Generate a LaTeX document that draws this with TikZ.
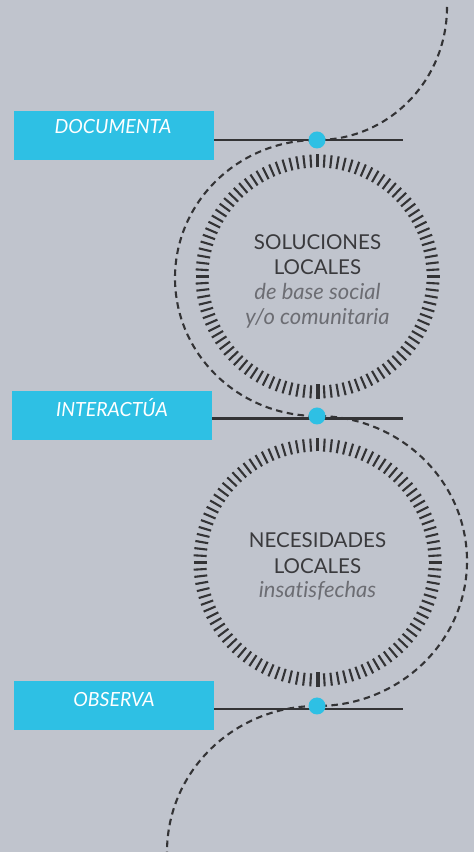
\documentclass[tikz,border=0pt]{standalone}
\usepackage{fontspec}
\setmainfont{Lato}[Ligatures=NoCommon]
\definecolor{bgc}{HTML}{C0C4CD}
\definecolor{bluec}{HTML}{2EC0E4}
\definecolor{darkc}{HTML}{333335}
\definecolor{titlec}{HTML}{3A3A3D}
\definecolor{subc}{HTML}{6C6D73}
\begin{document}
\begin{tikzpicture}[x=1pt,y=1pt,
  tagbox/.style={fill=bluec, draw=none, minimum width=200pt, minimum height=49pt, inner sep=0pt},
  tagtext/.style={text=white, anchor=base, inner sep=0pt, font=\itshape\fontsize{19.5}{19.5}\selectfont},
  dotc/.style={circle, fill=bluec, draw=none, minimum size=17pt, inner sep=0pt},
  hline/.style={draw=darkc, line width=2.6pt},
  dashc/.style={draw=darkc, line width=2.1pt, dash pattern=on 6.5pt off 4.5pt},
  tickc/.style={draw=darkc, line width=2.1pt},
  bigtick/.style={draw=darkc, line width=4pt},
  title/.style={text=titlec, anchor=base, inner sep=0pt, font=\fontsize{20.5}{20.5}\selectfont},
  subtitle/.style={text=subc, anchor=base, inner sep=0pt, font=\itshape\fontsize{22}{22}\selectfont}]
\fill[bgc] (0,0) rectangle (474,852);
\useasboundingbox (0,0) rectangle (474,852);

% label boxes
\node[tagbox] (b1) at (114,716.5) {};
\node[tagbox] (b2) at (112,436) {};
\node[tagbox] (b3) at (114,146.5) {};
\node[tagtext] (t1) at (113,718) {DOCUMENTA};
\node[tagtext] (t2) at (112,435) {INTERACTÚA};
\node[tagtext] (t3) at (114,145) {OBSERVA};

% line end points
\coordinate (e1) at (403,712);
\coordinate (e2) at (403,433.5);
\coordinate (e3) at (403,143);
\draw[hline] (b1.east |- e1) -- (e1);
\draw[hline] (b2.east |- e2) -- (e2);
\draw[hline] (b3.east |- e3) -- (e3);

% tick circles
\coordinate (c1) at (317.5,575.5);
\coordinate (c2) at (317.5,289.5);
\begin{scope}[shift={(c1)}]
  \foreach \i in {0,...,107} {\ifnum\i=81\else\draw[tickc] (\i*10/3:109) -- (\i*10/3:122);\fi}
  \draw[bigtick] (270:108) -- (270:123);
\end{scope}
\begin{scope}[shift={(c2)}]
  \foreach \i in {0,...,107} {\ifnum\i=81\else\draw[tickc] (\i*10/3:111) -- (\i*10/3:124);\fi}
  \draw[bigtick] (270:110) -- (270:125);
\end{scope}

% dashed path
\coordinate (top) at (447,845);
\draw[dashc] (top) arc[start angle=0, end angle=-90, x radius=130, y radius=133]
  arc[start angle=90, end angle=270, x radius=142, y radius=138]
  arc[start angle=90, end angle=-90, x radius=150, y radius=145]
  arc[start angle=90, end angle=180, x radius=150, y radius=146];

% dots
\node[dotc] (d1) at (317,712) {};
\node[dotc] (d2) at (317,436) {};
\node[dotc] (d3) at (317,146) {};

% circle texts
\node[title] (s1) at (317.5,602) {SOLUCIONES};
\node[title] (s2) at (317.5,577) {LOCALES};
\node[subtitle] (s3) at (317.5,552) {de base social};
\node[subtitle] (s4) at (317.5,527) {y/o comunitaria};

\node[title] (n1) at (317.5,304) {NECESIDADES};
\node[title] (n2) at (317.5,278) {LOCALES};
\node[subtitle] (n3) at (317.5,254) {insatisfechas};
\end{tikzpicture}
\end{document}
